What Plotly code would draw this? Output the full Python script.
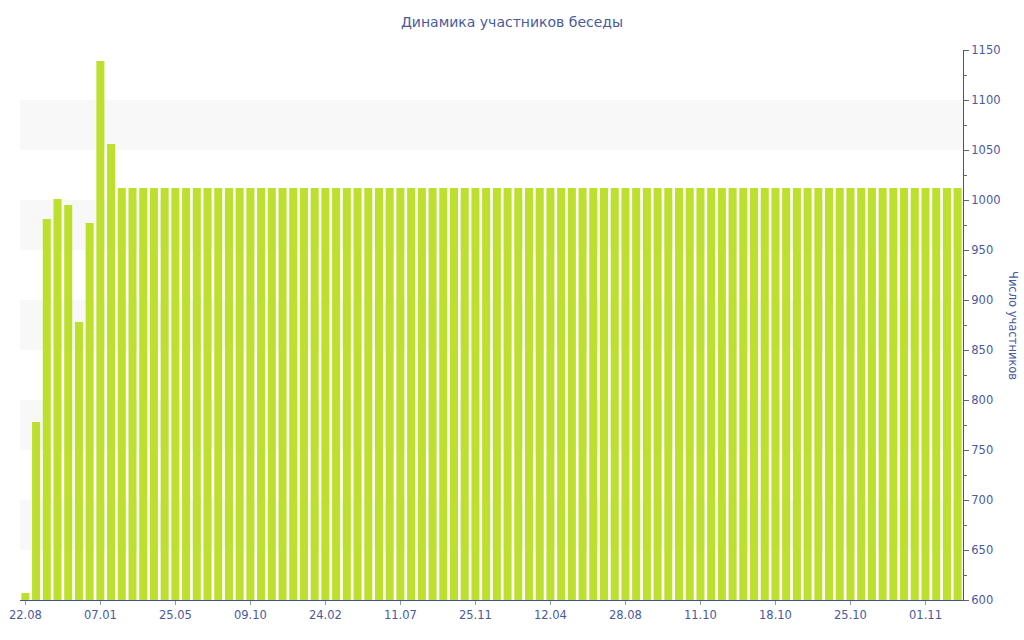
import plotly.graph_objects as go

# Data
bar_index = list(range(88))
values = [607, 778, 981, 1001, 995, 878, 977, 1139, 1056] + [1012] * 79
tick_positions = [0, 7, 14, 21, 28, 35, 42, 49, 56, 63, 70, 77, 84]
tick_labels = ["22.08", "07.01", "25.05", "09.10", "24.02", "11.07", "25.11",
               "12.04", "28.08", "11.10", "18.10", "25.10", "01.11"]
band_ranges = [(650, 700), (750, 800), (850, 900), (950, 1000), (1050, 1100)]

axis_color = "#3f51a0"
text_color = "#4a5a9e"

fig = go.Figure()
fig.add_trace(go.Bar(x=bar_index, y=values, marker=dict(color="#bde02e", line=dict(width=0)),
                     hoverinfo="y"))

shapes = []
for lo, hi in band_ranges:
    shapes.append(dict(type="rect", xref="paper", yref="y", x0=0, x1=1, y0=lo, y1=hi,
                       fillcolor="#f8f8f8", line=dict(width=0), layer="below"))

fig.update_layout(
    width=1024, height=640,
    margin=dict(l=20, r=61, t=50, b=40, autoexpand=False),
    paper_bgcolor="white", plot_bgcolor="white",
    font=dict(family="DejaVu Sans", size=11.5, color=text_color),
    title=dict(text="Динамика участников беседы", x=0.5, xanchor="center",
               yref="container", y=1 - 22 / 640, yanchor="middle",
               font=dict(size=14, color=text_color)),
    bargap=0.25,
    showlegend=False,
    shapes=shapes,
    xaxis=dict(range=[-0.5, 87.5], tickmode="array", tickvals=tick_positions,
               ticktext=tick_labels, showgrid=False, zeroline=False, automargin=False,
               showline=True, linecolor=axis_color, linewidth=1,
               ticks="outside", ticklen=4, tickcolor="#999999",
               tickfont=dict(size=11.5, color=text_color)),
    yaxis=dict(range=[600, 1150], side="right", dtick=50, tick0=600, automargin=False,
               showgrid=False, zeroline=False, showline=True, linecolor=axis_color,
               linewidth=1, ticks="outside", ticklen=5, tickcolor="#666666",
               minor=dict(dtick=25, ticks="outside", ticklen=3, tickcolor="#666666"),
               tickfont=dict(size=11.5, color=text_color)),
    annotations=[dict(text="Число участников", xref="paper", yref="paper",
                      x=(1013 - 20) / 943, y=0.5, xanchor="center", yanchor="middle",
                      textangle=90, showarrow=False,
                      font=dict(size=11.5, color=text_color))],
)

fig.write_html("out.html", config={"displayModeBar": False},
               post_script="document.body.style.margin='0';")
